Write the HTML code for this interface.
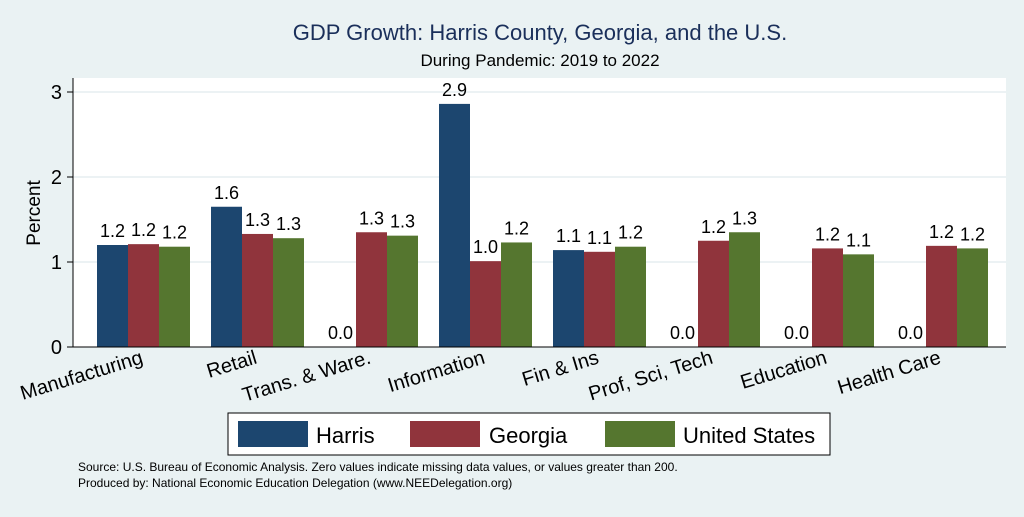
<!DOCTYPE html>
<html><head><meta charset="utf-8"><style>
body{margin:0;width:1024px;height:512px;background:#eaf2f3;font-family:"Liberation Sans",sans-serif;overflow:hidden}
</style></head><body>
<svg width="1024" height="512" font-family="Liberation Sans, sans-serif">
<rect x="73" y="78" width="933" height="269" fill="#fff"/>
<text x="540" y="40" text-anchor="middle" font-size="22" fill="#1a2f5a">GDP Growth: Harris County, Georgia, and the U.S.</text>
<text x="540" y="66" text-anchor="middle" font-size="17" fill="#000">During Pandemic: 2019 to 2022</text>
<text transform="translate(40,213) rotate(-90)" text-anchor="middle" font-size="19">Percent</text>
<g id="g"></g>
<g>
<rect x="228" y="413" width="602" height="42" fill="#fff" stroke="#000" stroke-width="1"/>
<rect x="238" y="421" width="70" height="26" fill="#1c466f"/><text x="316" y="443" font-size="22">Harris</text>
<rect x="410" y="421" width="70" height="26" fill="#90343c"/><text x="489" y="443" font-size="22">Georgia</text>
<rect x="605" y="421" width="70" height="26" fill="#55762f"/><text x="683" y="443" font-size="22">United States</text>
</g>
<text x="78" y="471" font-size="12">Source: U.S. Bureau of Economic Analysis. Zero values indicate missing data values, or values greater than 200.</text>
<text x="78" y="487" font-size="12">Produced by: National Economic Education Delegation (www.NEEDelegation.org)</text>
</svg>
<script>
const categories=["Manufacturing","Retail","Trans. & Ware.","Information","Fin & Ins","Prof, Sci, Tech","Education","Health Care"];
const harris=[1.2,1.65,0,2.86,1.14,0,0,0];
const georgia=[1.21,1.33,1.35,1.01,1.12,1.25,1.16,1.19];
const us=[1.18,1.28,1.31,1.23,1.18,1.35,1.09,1.16];
const harrisLabels=["1.2","1.6","0.0","2.9","1.1","0.0","0.0","0.0"];
const georgiaLabels=["1.2","1.3","1.3","1.0","1.1","1.2","1.2","1.2"];
const usLabels=["1.2","1.3","1.3","1.2","1.2","1.3","1.1","1.2"];
const yTicks=[0,1,2,3];
const NS="http://www.w3.org/2000/svg",g=document.getElementById('g');
const y=v=>347-v*85, gx=i=>97+i*114;
function mk(t,a,txt){const e=document.createElementNS(NS,t);for(const k in a)e.setAttribute(k,a[k]);if(txt!=null)e.textContent=txt;g.appendChild(e);return e;}
yTicks.forEach(t=>{
 if(t>0){const l=mk('line',{x1:73,x2:1006,y1:y(t),y2:y(t),stroke:'#e6eef0','stroke-width':1.5});
 
 }
 const k=mk('line',{x1:67,x2:73,y1:y(t),y2:y(t),stroke:'#000'});
 
 
 const tx=mk('text',{x:62,y:y(t)+7,'text-anchor':'end','font-size':20},String(t));
 
 
});
const series=[[harris,harrisLabels,'#1c466f','harris'],[georgia,georgiaLabels,'#90343c','georgia'],[us,usLabels,'#55762f','us']];
categories.forEach((c,i)=>{
 series.forEach(([arr,labs,col,nm],s)=>{
  const v=arr[i],x=gx(i)+s*31;
  if(v>0){const r=mk('rect',{x:x,y:y(v),width:31,height:347-y(v),fill:col});
  
  }
  const t=mk('text',{x:x+15.5,y:y(v)-8,'text-anchor':'middle','font-size':18},labs[i]);
  
  
 });
 const cx=gx(i)+46;
 const l=mk('text',{transform:`translate(${cx+1},363) rotate(-17)`,'text-anchor':'end','font-size':20},c);
 
 
});
const ax=mk('line',{x1:73,x2:73,y1:78,y2:347,stroke:'#000'});


const bx=mk('line',{x1:73,x2:1006,y1:347,y2:347,stroke:'#000'});


</script>
</body></html>
